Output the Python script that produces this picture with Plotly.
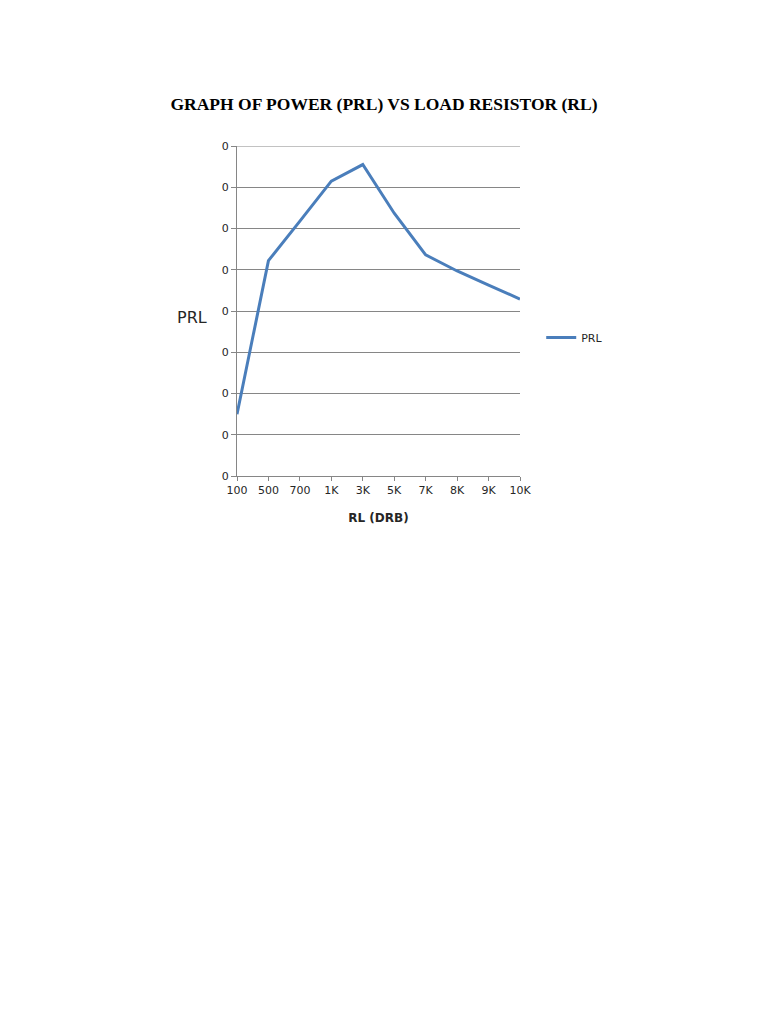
import plotly.graph_objects as go

categories = ["100", "500", "700", "1K", "3K", "5K", "7K", "8K", "9K", "10K"]
prl_values = [0.000150, 0.000522, 0.000618, 0.000715, 0.000755,
              0.000637, 0.000536, 0.000497, 0.000463, 0.000429]
series_name = "PRL"
y_max = 0.0008

# page offset of the figure (body margin) is 8px
L, T, PW, PH = 229, 138, 283, 330
R = 768 - L - PW
B = 1024 - T - PH

fig = go.Figure()
fig.add_trace(go.Scatter(
    x=categories, y=prl_values, mode="lines", name=series_name,
    line=dict(color="#4a7ebb", width=3),
))

fig.update_layout(
    width=768, height=1024,
    paper_bgcolor="white", plot_bgcolor="white",
    margin=dict(l=L, r=R, t=T, b=B),
    font=dict(family="DejaVu Sans", size=11, color="#262626"),
    title=dict(
        text="<b>GRAPH OF POWER (PRL) VS LOAD RESISTOR (RL)</b>",
        font=dict(family="Liberation Serif", size=17.5, color="black"),
        xref="container", x=376 / 768, xanchor="center",
        yref="container", y=1 - 96 / 1024, yanchor="middle",
    ),
    showlegend=True,
    legend=dict(x=1.075, y=0.42, xanchor="left", yanchor="middle",
                font=dict(size=11, color="#262626"), itemwidth=30),
    xaxis=dict(
        type="category", range=[0, len(categories) - 1],
        showline=True, linecolor="#868686", linewidth=1,
        ticks="outside", ticklen=4, tickcolor="#868686",
        showgrid=False, zeroline=False,
        title=dict(text="<b>RL (DRB)</b>", font=dict(size=12, color="#262626"), standoff=17),
    ),
    yaxis=dict(
        range=[0, y_max], dtick=0.0001, tickformat=".0f",
        showline=True, linecolor="#868686", linewidth=1,
        ticks="outside", ticklen=5, tickcolor="#868686",
        showgrid=True, gridcolor="#868686", gridwidth=1, zeroline=False,
    ),
    shapes=[dict(type="line", xref="paper", yref="y", x0=0, x1=1, y0=y_max, y1=y_max,
                 line=dict(color="#868686", width=1), layer="below")],
    annotations=[dict(
        text="PRL", x=(184 - L) / PW, y=(T + PH - 309) / PH,
        xref="paper", yref="paper", xanchor="center", yanchor="middle",
        showarrow=False, font=dict(size=16, color="#262626"),
    )],
)

fig.write_html("out.html")
